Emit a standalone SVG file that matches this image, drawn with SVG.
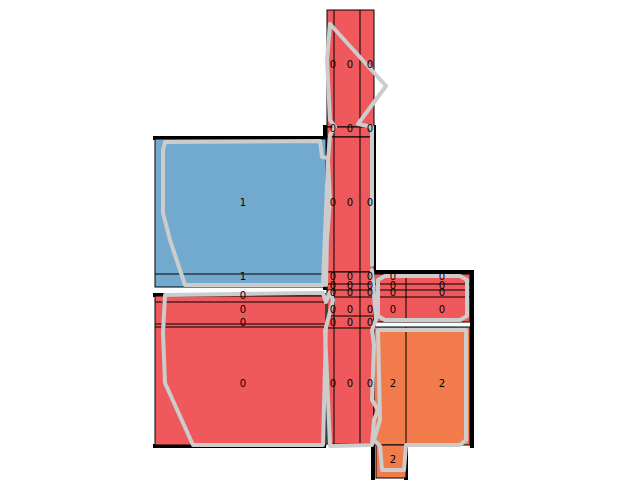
<svg xmlns="http://www.w3.org/2000/svg" width="640" height="500" viewBox="0 0 640 500">
<style>
.r{fill:#f0595b;stroke:#000;stroke-width:1}
.b{fill:#72aacf;stroke:#000;stroke-width:1}
.o{fill:#f27b4c;stroke:#000;stroke-width:1}
.k{stroke:#000;stroke-width:4;fill:none}
.g{fill:none;stroke:#cccccc;stroke-width:4;stroke-linejoin:round;stroke-linecap:round}
text{font-family:"DejaVu Sans",sans-serif;font-size:10px;text-anchor:middle;dominant-baseline:central;fill:#000}
</style>
<rect width="640" height="500" fill="#fff"/>
<g id="black-edges">
<line class="k" x1="153" y1="138" x2="326" y2="138"/>
<line class="k" x1="325" y1="125" x2="325" y2="290"/>
<line class="k" x1="153" y1="295" x2="326" y2="295"/>
<line class="k" x1="153" y1="446" x2="326" y2="446"/>
<line class="k" x1="374" y1="125" x2="374" y2="330"/>
<line class="k" x1="374" y1="272" x2="474" y2="272"/>
<line class="k" x1="472" y1="272" x2="472" y2="448"/>
<line class="k" x1="373" y1="440" x2="373" y2="480"/>
<line class="k" x1="406" y1="446" x2="406" y2="480"/>
</g>
<g id="cluster0">
<rect class="r" x="327" y="10" width="47" height="117"/>
<rect class="r" x="327" y="127" width="47" height="10"/>
<rect class="r" x="327" y="137" width="47" height="135"/>
<rect class="r" x="327" y="272" width="47" height="172"/>
<line stroke="#000" x1="334" y1="10" x2="334" y2="444"/>
<line stroke="#000" x1="360" y1="10" x2="360" y2="444"/>
<line stroke="#000" x1="327" y1="284" x2="374" y2="284"/>
<line stroke="#000" x1="327" y1="290" x2="374" y2="290"/>
<line stroke="#000" x1="327" y1="297" x2="374" y2="297"/>
<line stroke="#000" x1="327" y1="316" x2="374" y2="316"/>
<line stroke="#000" x1="327" y1="328" x2="374" y2="328"/>
<rect class="r" x="155" y="296" width="171" height="149"/>
<line stroke="#000" x1="155" y1="302" x2="326" y2="302"/>
<line stroke="#000" x1="155" y1="324" x2="326" y2="324"/>
<line stroke="#000" x1="155" y1="327" x2="326" y2="327"/>
<rect class="r" x="374" y="274" width="96" height="48"/>
<line stroke="#000" x1="374" y1="284" x2="470" y2="284"/>
<line stroke="#000" x1="374" y1="290" x2="470" y2="290"/>
<line stroke="#000" x1="374" y1="297" x2="470" y2="297"/>
<line stroke="#000" x1="406" y1="274" x2="406" y2="322"/>
</g>
<g id="cluster1">
<rect class="b" x="155" y="139" width="171" height="148"/>
<line stroke="#000" x1="155" y1="274" x2="326" y2="274"/>
</g>
<g id="cluster2">
<rect class="o" x="374" y="327" width="96" height="118"/>
<line stroke="#000" x1="406" y1="327" x2="406" y2="445"/>
<rect class="o" x="376" y="445" width="30" height="33"/>
</g>
<g id="connectors">
<polyline class="g" points="165,142 320,141 322,157 328,158 327,185 323,285 185,285 170,240 163,213 163,150 165,142"/>
<polyline class="g" points="330,24 386,86 358,124 372,127 372,265"/>
<polyline class="g" points="330,24 327,60 330,120 335,127 330,135 328,160 330,200 327,240 326,285"/>
<polyline class="g" points="165,295 323,293 326,302 330,292 333,300 326,327 323,445 193,445 165,383 163,333 165,295"/>
<polyline class="g" points="378,280 385,276 460,276 467,280 467,316 460,320 385,320 378,316 378,280"/>
<polyline class="g" points="372,270 376,320 372,330 374,345 372,400 378,410 374,420 372,445 330,446 325,330"/>
<polyline class="g" points="380,330 466,330 466,440 460,445 406,445 404,470 382,470 380,446 374,440 380,420 378,330"/>
</g>
<g id="labels">
<text x="333" y="64">0</text><text x="350" y="64">0</text><text x="370" y="64">0</text>
<text x="333" y="128">0</text><text x="350" y="128">0</text><text x="370" y="128">0</text>
<text x="333" y="202">0</text><text x="350" y="202">0</text><text x="370" y="202">0</text>
<text x="243" y="202">1</text>
<text x="243" y="276">1</text>
<text x="333" y="276">0</text><text x="350" y="276">0</text><text x="370" y="276">0</text><text x="393" y="276">0</text><text x="442" y="276">0</text>
<text x="333" y="285">0</text><text x="350" y="285">0</text><text x="370" y="285">0</text><text x="393" y="285">0</text><text x="442" y="285">0</text>
<text x="333" y="292">0</text><text x="350" y="292">0</text><text x="370" y="292">0</text><text x="393" y="292">0</text><text x="442" y="292">0</text>
<text x="243" y="295">0</text>
<text x="333" y="309">0</text><text x="350" y="309">0</text><text x="370" y="309">0</text><text x="393" y="309">0</text><text x="442" y="309">0</text>
<text x="243" y="309">0</text>
<text x="333" y="322">0</text><text x="350" y="322">0</text><text x="370" y="322">0</text>
<text x="243" y="322">0</text>
<text x="243" y="383">0</text>
<text x="333" y="383">0</text><text x="350" y="383">0</text><text x="370" y="383">0</text><text x="393" y="383">2</text><text x="442" y="383">2</text>
<text x="393" y="459">2</text>
</g>
</svg>
